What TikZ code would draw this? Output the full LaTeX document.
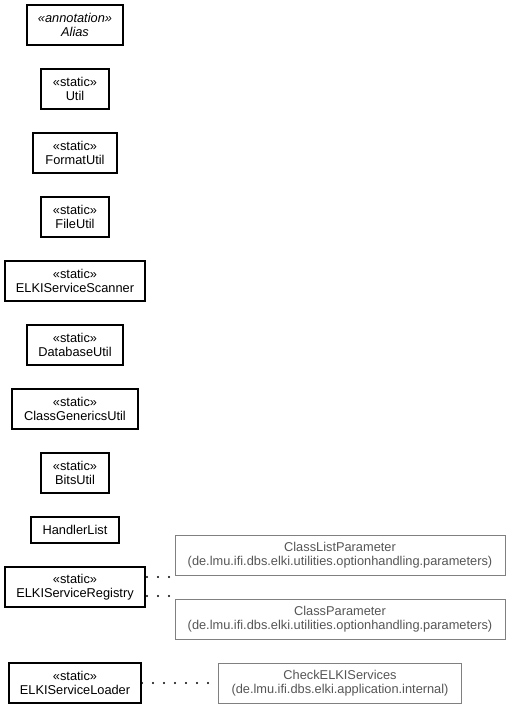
\documentclass[tikz,border=0pt]{standalone}
\usepackage{fontspec}
\setmainfont{Liberation Sans}
\usetikzlibrary{positioning}
\definecolor{extgray}{HTML}{808080}
\definecolor{deptext}{HTML}{555555}
\tikzset{
  classbox/.style={draw, line width=1.1pt, align=center, inner sep=0pt, outer sep=0pt,
    minimum height=40pt, font=\fontsize{12.8}{14.5}\selectfont},
  extbox/.style={classbox, draw=extgray, line width=0.8pt, text=deptext},
  dep/.style={line width=2.2pt, line cap=round, dash pattern=on 0pt off 11pt}
}
\begin{document}
\begin{tikzpicture}[x=1pt, y=-1pt, node distance=24pt]
  \useasboundingbox (0,0) rectangle (512,709);
  \node[classbox, minimum width=96pt] (alias) at (75,25) {\textit{«annotation»}\\\textit{Alias}};
  \node[classbox, minimum width=68pt, below=of alias] (util) {«static»\\Util};
  \node[classbox, minimum width=84pt, below=of util] (fmt) {«static»\\FormatUtil};
  \node[classbox, minimum width=68pt, below=of fmt] (file) {«static»\\FileUtil};
  \node[classbox, minimum width=140pt, below=of file] (scan) {«static»\\ELKIServiceScanner};
  \node[classbox, minimum width=96pt, below=of scan] (db) {«static»\\DatabaseUtil};
  \node[classbox, minimum width=126pt, below=of db] (gen) {«static»\\ClassGenericsUtil};
  \node[classbox, minimum width=68pt, below=of gen] (bits) {«static»\\BitsUtil};
  \node[classbox, minimum width=88pt, minimum height=26pt, below=of bits] (hlist) {HandlerList};
  \node[classbox, minimum width=140pt, below=of hlist] (reg) {«static»\\ELKIServiceRegistry};
  \node[classbox, minimum width=132pt, below=56pt of reg] (load) {«static»\\ELKIServiceLoader};
  % external classes
  \node[extbox, minimum width=330pt] (clp) at (340,555) {ClassListParameter\\(de.lmu.ifi.dbs.elki.utilities.optionhandling.parameters)};
  \node[extbox, minimum width=330pt] (cp) at (340,619) {ClassParameter\\(de.lmu.ifi.dbs.elki.utilities.optionhandling.parameters)};
  \node[extbox, minimum width=243pt] (chk) at (340,683) {CheckELKIServices\\(de.lmu.ifi.dbs.elki.application.internal)};
  % dependencies
  \draw[dep] ([yshift=-9pt, xshift=2pt]reg.east) -- ([yshift=-9pt, xshift=-5pt]reg.east -| clp.west);
  \draw[dep] ([yshift=10pt, xshift=2pt]reg.east) -- ([yshift=10pt, xshift=-5pt]reg.east -| cp.west);
  \draw[dep] ([xshift=1pt]load.east) -- (chk.west);
\end{tikzpicture}
\end{document}
